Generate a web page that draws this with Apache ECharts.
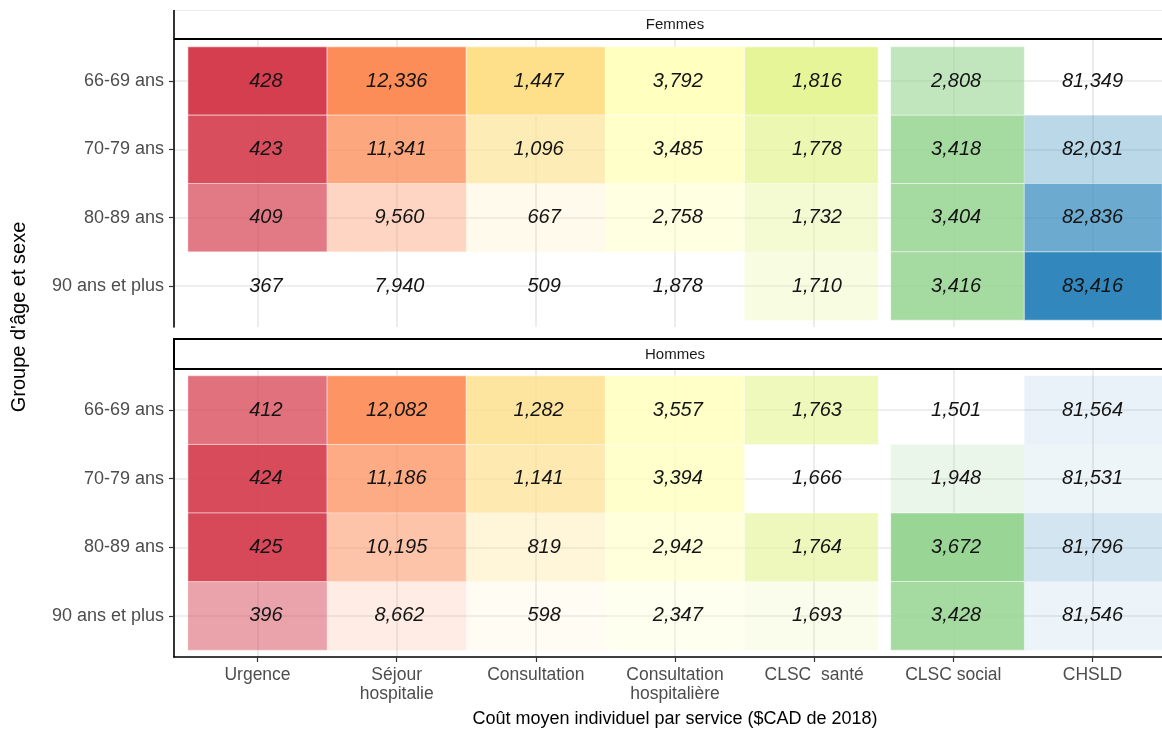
<!DOCTYPE html>
<html lang="fr">
<head>
<meta charset="utf-8">
<title>Coût moyen individuel par service</title>
<script src="https://cdn.jsdelivr.net/npm/echarts@6/dist/echarts.min.js"></script>
<style>
  html, body { margin: 0; padding: 0; background: #fff; }
  #chart { width: 1162px; height: 729px; }
</style>
</head>
<body>
<div id="chart"></div>
<script>
// Services (x axis) and age groups (y axis)
const services = ['Urgence', 'Séjour\nhospitalie', 'Consultation', 'Consultation\nhospitalière', 'CLSC  santé', 'CLSC social', 'CHSLD'];
const ageGroups = ['66-69 ans', '70-79 ans', '80-89 ans', '90 ans et plus'];
const panels = ['Femmes', 'Hommes'];

// Mean individual cost per service, by age group (66-69, 70-79, 80-89, 90+)
const urgenceF      = [428, 423, 409, 367];
const urgenceH      = [412, 424, 425, 396];
const sejourF       = [12336, 11341, 9560, 7940];
const sejourH       = [12082, 11186, 10195, 8662];
const consultF      = [1447, 1096, 667, 509];
const consultH      = [1282, 1141, 819, 598];
const consultHospF  = [3792, 3485, 2758, 1878];
const consultHospH  = [3557, 3394, 2942, 2347];
const clscSanteF    = [1816, 1778, 1732, 1710];
const clscSanteH    = [1763, 1666, 1764, 1693];
const clscSocialF   = [2808, 3418, 3404, 3416];
const clscSocialH   = [1501, 1948, 3672, 3428];
const chsldF        = [81349, 82031, 82836, 83416];
const chsldH        = [81564, 81531, 81796, 81546];

const femmes = [urgenceF, sejourF, consultF, consultHospF, clscSanteF, clscSocialF, chsldF];
const hommes = [urgenceH, sejourH, consultH, consultHospH, clscSanteH, clscSocialH, chsldH];

// One hue per service (Spectral, 7 classes)
const palette = ['#D53E4F', '#FC8D59', '#FEE08B', '#FFFFBF', '#E6F598', '#99D594', '#3288BD'];

// Horizontal extent of each service's tiles, in axis units
const tileLeft  = [0.5, 1.5, 2.5, 3.5, 4.5, 5.55, 6.51];
const tileRight = [1.5, 2.5, 3.5, 4.5, 5.46, 6.51, 7.5];

// Opacity scales from the lowest to the highest cost of each service (both sexes)
function buildData(table) {
  const out = [];
  table.forEach((vals, c) => {
    const all = femmes[c].concat(hommes[c]);
    const lo = Math.min(...all), hi = Math.max(...all);
    vals.forEach((v, r) => {
      out.push([c + 1, r + 1, v, (v - lo) / (hi - lo), c]);
    });
  });
  return out;
}

function fmt(v) {
  return v.toLocaleString('en-US').padStart(6, ' ');
}

function renderTile(params, api) {
  const c = api.value(4);
  const r = api.value(1);
  const a = api.value(3);
  const v = api.value(2);
  const p0 = api.coord([tileLeft[c], r - 0.5]);
  const p1 = api.coord([tileRight[c], r + 0.5]);
  const mid = api.coord([c + 1, r]);
  return {
    type: 'group',
    children: [
      {
        type: 'rect',
        shape: {
          x: p0[0],
          y: Math.min(p0[1], p1[1]),
          width: p1[0] - p0[0],
          height: Math.abs(p1[1] - p0[1])
        },
        style: { fill: palette[c], opacity: a, stroke: '#ffffff', lineWidth: 0.5 }
      },
      {
        type: 'text',
        z2: 10,
        style: {
          text: fmt(v),
          x: mid[0],
          y: mid[1],
          align: 'center',
          verticalAlign: 'middle',
          fontFamily: '"Liberation Sans", Arial, sans-serif',
          fontStyle: 'italic',
          fontSize: 20,
          fill: '#141414'
        }
      }
    ]
  };
}

const FONT = '"Liberation Sans", Arial, sans-serif';
const colTicks = [1, 2, 3, 4, 5, 6, 7];
const rowTicks = [1, 2, 3, 4];
const gridColor = '#E8E8E8';

function xAxisFor(i, bottom) {
  return {
    type: 'value', gridIndex: i, min: 0.4, max: 7.6,
    axisLine: { show: bottom, onZero: false, lineStyle: { color: '#000', width: 1.6 } },
    axisTick: { show: bottom, customValues: colTicks, length: 5, lineStyle: { color: '#333', width: 1.2 } },
    axisLabel: {
      show: bottom, customValues: colTicks, margin: 9,
      formatter: v => services[Math.round(v) - 1] || '',
      color: '#4D4D4D', fontSize: 17.5, fontFamily: FONT, lineHeight: 19
    },
    splitLine: { show: true, lineStyle: { color: gridColor, width: 1.6 } },
    name: bottom ? 'Coût moyen individuel par service ($CAD de 2018)' : '',
    nameLocation: 'middle', nameGap: 53,
    nameTextStyle: { color: '#000', fontSize: 18, fontFamily: FONT }
  };
}

function yAxisFor(i) {
  return {
    type: 'value', gridIndex: i, min: 0.4, max: 4.6, inverse: true,
    axisLine: { show: true, onZero: false, lineStyle: { color: '#000', width: 1.6 } },
    axisTick: { show: true, customValues: rowTicks, length: 5, lineStyle: { color: '#333', width: 1.2 } },
    axisLabel: {
      customValues: rowTicks, margin: 10,
      formatter: v => ageGroups[Math.round(v) - 1] || '',
      color: '#4D4D4D', fontSize: 18, fontFamily: FONT
    },
    splitLine: { show: true, lineStyle: { color: gridColor, width: 1.6 } }
  };
}

const chart = echarts.init(document.getElementById('chart'), null, { renderer: 'canvas' });

chart.setOption({
  backgroundColor: '#ffffff',
  animation: false,
  grid: [
    { left: 174, top: 40, width: 1002, height: 287, outerBoundsMode: 'none' },
    { left: 174, top: 369, width: 1002, height: 288, outerBoundsMode: 'none' }
  ],
  xAxis: [xAxisFor(0, false), xAxisFor(1, true)],
  yAxis: [yAxisFor(0), yAxisFor(1)],
  series: [
    {
      name: panels[0], type: 'custom', xAxisIndex: 0, yAxisIndex: 0,
      renderItem: renderTile, data: buildData(femmes), z: 3
    },
    {
      name: panels[1], type: 'custom', xAxisIndex: 1, yAxisIndex: 1,
      renderItem: renderTile, data: buildData(hommes), z: 3
    }
  ],
  graphic: [
    // Facet strip: Femmes
    { type: 'rect', shape: { x: 174, y: 10, width: 1000, height: 29 }, style: { fill: '#fff' }, z: 5 },
    { type: 'line', shape: { x1: 174, y1: 10.5, x2: 1162, y2: 10.5 }, style: { stroke: '#EBEBEB', lineWidth: 1 }, z: 6 },
    { type: 'line', shape: { x1: 174, y1: 10, x2: 174, y2: 40 }, style: { stroke: '#000', lineWidth: 1.6 }, z: 6 },
    { type: 'line', shape: { x1: 174, y1: 39, x2: 1162, y2: 39 }, style: { stroke: '#000', lineWidth: 2 }, z: 6 },
    { type: 'text', x: 675, y: 24.5, z: 7,
      style: { text: panels[0], align: 'center', verticalAlign: 'middle', fontSize: 15, fontFamily: FONT, fill: '#1A1A1A' } },
    // Facet strip: Hommes
    { type: 'rect', shape: { x: 174, y: 339, width: 1000, height: 30 }, style: { fill: '#fff', stroke: '#000', lineWidth: 2 }, z: 5 },
    { type: 'text', x: 675, y: 354.5, z: 7,
      style: { text: panels[1], align: 'center', verticalAlign: 'middle', fontSize: 15, fontFamily: FONT, fill: '#1A1A1A' } },
    // Shared y-axis title
    { type: 'text', x: 19, y: 317, rotation: Math.PI / 2, z: 7,
      style: { text: "Groupe d'âge et sexe", align: 'center', verticalAlign: 'middle', fontSize: 20, fontFamily: FONT, fill: '#000' } }
  ]
});
</script>
</body>
</html>
